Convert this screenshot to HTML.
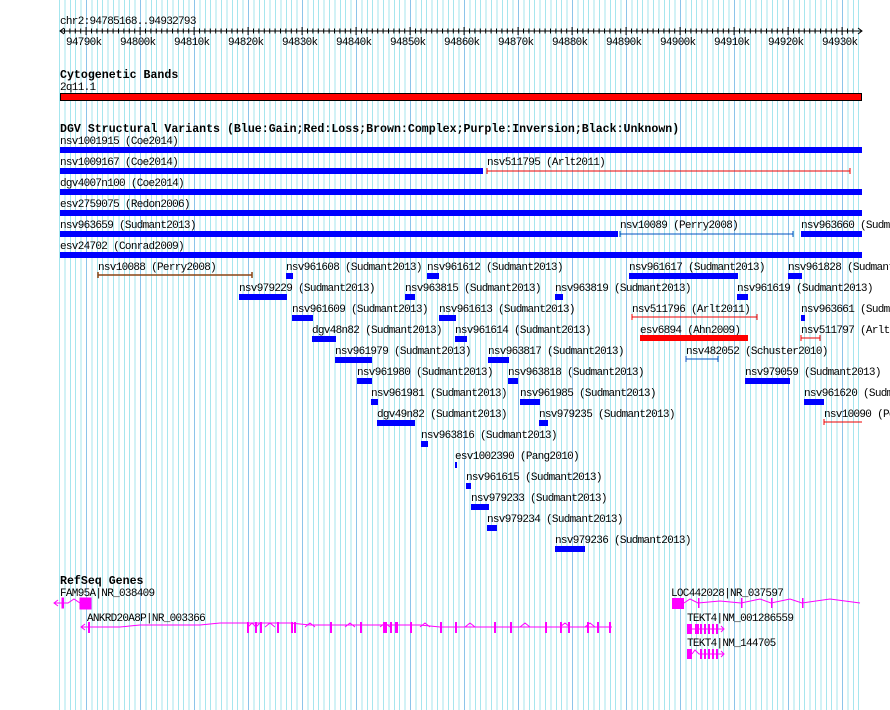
<!DOCTYPE html>
<html><head><meta charset="utf-8"><style>
body{margin:0;background:#fff;}
#w{position:relative;width:890px;height:710px;overflow:hidden;background:#fff;}
.g1{position:absolute;top:0;left:59.1px;width:803px;height:710px;background:repeating-linear-gradient(90deg,#a6e6ee 0 1px,transparent 1px 5.4px);}
.g2{position:absolute;top:0;left:86px;width:776px;height:710px;background:repeating-linear-gradient(90deg,#8cc4ea 0 1px,transparent 1px 54px);}
svg{position:absolute;left:0;top:0;}
text{font-family:"Liberation Mono","DejaVu Sans Mono",monospace;font-size:11px;letter-spacing:-0.7px;fill:#000;}
.h{font-weight:bold;font-size:11.6px;letter-spacing:0;}
</style></head><body><div id="w"><div class="g1"></div><div class="g2"></div>
<svg width="890" height="710" xmlns="http://www.w3.org/2000/svg">
<text x="60" y="24">chr2:94785168..94932793</text>
<line x1="60" y1="31" x2="862" y2="31" stroke="#000"/>
<path d="M64 28L60 31L64 34M858 28L862 31L858 34" fill="none" stroke="#000"/>
<g stroke="#000" id="ticks"></g>
<g>
<text x="66" y="45">94790k</text><text x="120" y="45">94800k</text><text x="174" y="45">94810k</text><text x="228" y="45">94820k</text><text x="282" y="45">94830k</text><text x="336" y="45">94840k</text><text x="390" y="45">94850k</text><text x="444" y="45">94860k</text><text x="498" y="45">94870k</text><text x="552" y="45">94880k</text><text x="606" y="45">94890k</text><text x="660" y="45">94900k</text><text x="714" y="45">94910k</text><text x="768" y="45">94920k</text><text x="822" y="45">94930k</text>
</g>
<text class="h" x="60" y="78">Cytogenetic Bands</text>
<text x="60" y="90">2q11.1</text>
<rect x="60.5" y="93.5" width="801" height="7" fill="#f00" stroke="#000"/>
<text class="h" x="60" y="132">DGV Structural Variants (Blue:Gain;Red:Loss;Brown:Complex;Purple:Inversion;Black:Unknown)</text>
<g fill="#00f">
<text x="60" y="144">nsv1001915 (Coe2014)</text><rect x="60" y="147" width="802" height="6"/>
<text x="60" y="165">nsv1009167 (Coe2014)</text><rect x="60" y="168" width="423" height="6"/>
<text x="487" y="165">nsv511795 (Arlt2011)</text>
<text x="60" y="186">dgv4007n100 (Coe2014)</text><rect x="60" y="189" width="802" height="6"/>
<text x="60" y="207">esv2759075 (Redon2006)</text><rect x="60" y="210" width="802" height="6"/>
<text x="60" y="228">nsv963659 (Sudmant2013)</text><rect x="60" y="231" width="558" height="6"/>
<text x="620" y="228">nsv10089 (Perry2008)</text>
<text x="801" y="228">nsv963660 (Sudmant2013)</text><rect x="801" y="231" width="61" height="6"/>
<text x="60" y="249">esv24702 (Conrad2009)</text><rect x="60" y="252" width="802" height="6"/>
</g>
<path d="M487 171H850M487 168V174M850 168V174" stroke="#e00" fill="none"/>
<path d="M620 234H793M620 231V237M793 231V237" stroke="#0050c0" fill="none"/>
<g id="rows"></g>
<path d="M98 275H252M98 272V278M252 272V278" stroke="#8b4513" fill="none" stroke-width="1.5"/>
<path d="M632 317H757M632 314V320M757 314V320" stroke="#e00" fill="none"/>
<path d="M801 338H820M801 335V341M820 335V341" stroke="#e00" fill="none"/>
<rect x="640" y="335" width="108" height="6" fill="#f00"/>
<path d="M686 359H718M686 356V362M718 356V362" stroke="#0050c0" fill="none"/>
<path d="M824 422H862M824 419V425" stroke="#e00" fill="none"/>
<text class="h" x="60" y="584">RefSeq Genes</text>
<text x="60" y="596">FAM95A|NR_038409</text>
<g stroke="#f0f" fill="#f0f">
<path d="M54 603H68L74 599L80 603H91M58 600L54 603L58 606" fill="none"/>
<rect x="62" y="598" width="1.5" height="10"/><rect x="80" y="598" width="11" height="11"/>
</g>
<text x="87" y="621">ANKRD20A8P|NR_003366</text>
<g stroke="#f0f" fill="none">
<path d="M82 627H120L140 625H200L220 623H290L310 625H420L440 627H612M85 624L81 627L85 630"/>
<path d="M248 627L252 623L256 627L260 623M265 627L270 623L275 627M305 627L310 623L315 627M345 627L350 623L355 627M380 627L385 623L390 627M420 627L425 623L430 627M465 627L470 623L475 627M520 627L525 623L530 627M560 627L565 623L570 627M585 627L590 623L595 627"/>
</g>
<g fill="#f0f">
<rect x="88" y="622" width="2" height="11"/><rect x="247" y="622" width="2" height="11"/><rect x="255" y="622" width="2" height="11"/><rect x="260" y="622" width="2" height="11"/><rect x="277" y="622" width="2" height="11"/><rect x="291" y="622" width="2" height="11"/><rect x="294" y="622" width="2" height="11"/><rect x="330" y="622" width="2" height="11"/><rect x="360" y="622" width="2" height="11"/><rect x="383" y="622" width="4" height="11"/><rect x="390" y="622" width="2" height="11"/><rect x="395" y="622" width="3" height="11"/><rect x="410" y="622" width="2" height="11"/><rect x="440" y="622" width="2" height="11"/><rect x="455" y="622" width="2" height="11"/><rect x="494" y="622" width="2" height="11"/><rect x="510" y="622" width="2" height="11"/><rect x="545" y="622" width="2" height="11"/><rect x="560" y="622" width="2" height="11"/><rect x="568" y="622" width="2" height="11"/><rect x="587" y="622" width="2" height="11"/><rect x="597" y="622" width="2" height="11"/><rect x="609" y="622" width="2" height="11"/>
</g>
<text x="671" y="596">LOC442028|NR_037597</text>
<path d="M684 603L690 599L698 603L720 601L741 603L760 599L771 603L790 599L802 603L830 599L860 603" stroke="#f0f" fill="none"/>
<g fill="#f0f"><rect x="672" y="598" width="12" height="11"/><rect x="698" y="598" width="1.5" height="10"/><rect x="741" y="598" width="1.5" height="10"/><rect x="771" y="598" width="1.5" height="10"/><rect x="802" y="598" width="1.5" height="10"/></g>
<text x="687" y="621">TEKT4|NM_001286559</text>
<text x="687" y="646">TEKT4|NM_144705</text>
<g fill="#f0f"><rect x="687" y="624" width="5" height="10"/><rect x="695" y="624" width="4" height="10"/><rect x="700" y="624" width="2" height="10"/><rect x="704" y="624" width="2" height="10"/><rect x="708" y="624" width="2" height="10"/><rect x="712" y="624" width="2" height="10"/><rect x="716" y="624" width="2" height="10"/>
<rect x="687" y="649" width="5" height="10"/><rect x="700" y="649" width="2" height="10"/><rect x="704" y="649" width="2" height="10"/><rect x="708" y="649" width="2" height="10"/><rect x="712" y="649" width="2" height="10"/><rect x="716" y="649" width="2" height="10"/></g>
<path d="M687 629H724M721 626L724 629L721 632M692 654L695 650L699 654H724M721 651L724 654L721 657" stroke="#f0f" fill="none"/>
</svg>
<script>
var ns="http://www.w3.org/2000/svg";
var t=document.getElementById("ticks");
for(var k=94786;k<=94932;k++){var x=60+(k*1000-94785168)/1000*5.4;var l=document.createElementNS(ns,"line");l.setAttribute("x1",x);l.setAttribute("x2",x);l.setAttribute("y1",k%10==0?27:28.5);l.setAttribute("y2",k%10==0?35:33.5);t.appendChild(l);}
var R=[
[0,"nsv10088 (Perry2008)",98,0],[0,"nsv961608 (Sudmant2013)",286,293],[0,"nsv961612 (Sudmant2013)",427,439],[0,"nsv961617 (Sudmant2013)",629,738],[0,"nsv961828 (Sudmant2013)",788,802],
[1,"nsv979229 (Sudmant2013)",239,287],[1,"nsv963815 (Sudmant2013)",405,415],[1,"nsv963819 (Sudmant2013)",555,563],[1,"nsv961619 (Sudmant2013)",737,748],
[2,"nsv961609 (Sudmant2013)",292,313],[2,"nsv961613 (Sudmant2013)",439,456],[2,"nsv511796 (Arlt2011)",632,0],[2,"nsv963661 (Sudmant2013)",801,805],
[3,"dgv48n82 (Sudmant2013)",312,336],[3,"nsv961614 (Sudmant2013)",455,467],[3,"esv6894 (Ahn2009)",640,0],[3,"nsv511797 (Arlt2011)",801,0],
[4,"nsv961979 (Sudmant2013)",335,372],[4,"nsv963817 (Sudmant2013)",488,509],[4,"nsv482052 (Schuster2010)",686,0],
[5,"nsv961980 (Sudmant2013)",357,372],[5,"nsv963818 (Sudmant2013)",508,518],[5,"nsv979059 (Sudmant2013)",745,790],
[6,"nsv961981 (Sudmant2013)",371,378],[6,"nsv961985 (Sudmant2013)",520,540],[6,"nsv961620 (Sudmant2013)",804,824],
[7,"dgv49n82 (Sudmant2013)",377,415],[7,"nsv979235 (Sudmant2013)",539,548],[7,"nsv10090 (Perry2008)",824,0],
[8,"nsv963816 (Sudmant2013)",421,428],[9,"esv1002390 (Pang2010)",455,457],[10,"nsv961615 (Sudmant2013)",466,471],
[11,"nsv979233 (Sudmant2013)",471,489],[12,"nsv979234 (Sudmant2013)",487,497],[13,"nsv979236 (Sudmant2013)",555,585]];
var g=document.getElementById("rows");
R.forEach(function(r){var y=270+r[0]*21;var tx=document.createElementNS(ns,"text");tx.setAttribute("x",r[2]);tx.setAttribute("y",y);tx.textContent=r[1];g.appendChild(tx);
if(r[3]){var b=document.createElementNS(ns,"rect");b.setAttribute("x",r[2]);b.setAttribute("y",y+3);b.setAttribute("width",r[3]-r[2]);b.setAttribute("height",6);b.setAttribute("fill","#00f");g.appendChild(b);}});
</script>
</div></body></html>
